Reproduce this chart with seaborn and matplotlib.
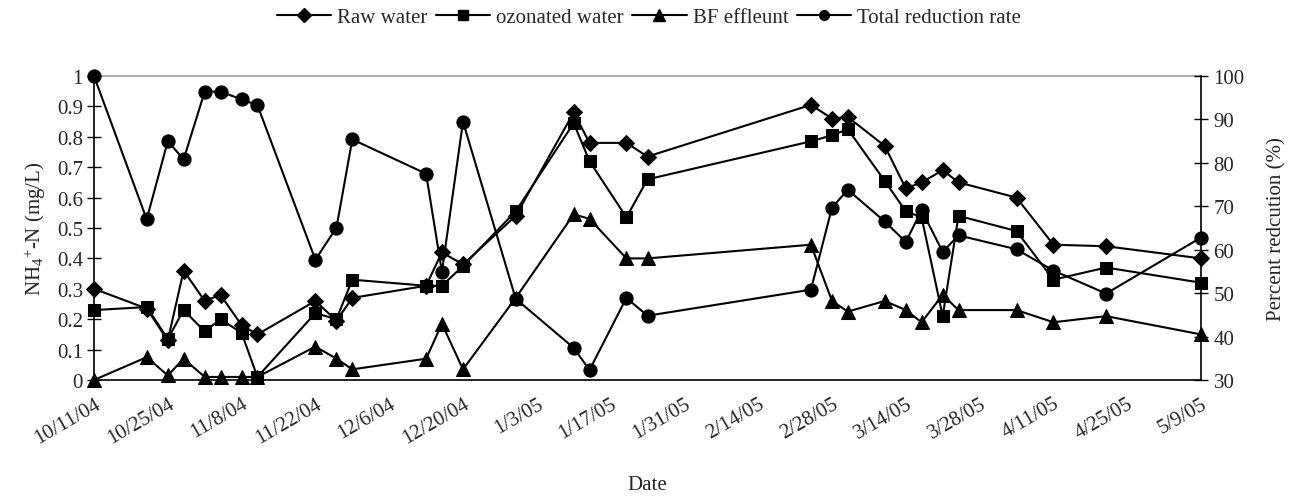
import matplotlib
matplotlib.use("Agg")
import matplotlib.pyplot as plt
import matplotlib.dates as mdates
from matplotlib.lines import Line2D
import seaborn as sns
import pandas as pd

# ---- data ----
dates = ["10/11/04", "10/21/04", "10/25/04", "10/28/04", "11/1/04", "11/4/04", "11/8/04",
         "11/11/04", "11/22/04", "11/26/04", "11/29/04", "12/13/04", "12/16/04", "12/20/04",
         "12/30/04", "1/10/05", "1/13/05", "1/20/05", "1/24/05", "2/24/05", "2/28/05",
         "3/3/05", "3/10/05", "3/14/05", "3/17/05", "3/21/05", "3/24/05", "4/4/05",
         "4/11/05", "4/21/05", "5/9/05"]
raw_water = [0.30, 0.235, 0.13, 0.36, 0.26, 0.28, 0.18, 0.15, 0.26, 0.195, 0.27, 0.31,
             0.42, 0.38, 0.54, 0.88, 0.78, 0.78, 0.735, 0.905, 0.86, 0.865, 0.77, 0.63,
             0.65, 0.69, 0.65, 0.60, 0.445, 0.44, 0.40]
ozonated = [0.23, 0.24, 0.135, 0.23, 0.16, 0.20, 0.155, 0.01, 0.22, 0.20, 0.33, 0.31,
            0.31, 0.375, 0.555, 0.845, 0.72, 0.535, 0.66, 0.785, 0.805, 0.825, 0.655,
            0.555, 0.535, 0.21, 0.54, 0.49, 0.33, 0.37, 0.32]
bf_effluent = [0.0, 0.075, 0.015, 0.07, 0.01, 0.01, 0.01, 0.01, 0.11, 0.07, 0.035, 0.07,
               0.185, 0.035, 0.27, 0.545, 0.53, 0.40, 0.40, 0.445, 0.26, 0.225, 0.26,
               0.23, 0.19, 0.28, 0.23, 0.23, 0.19, 0.21, 0.15]
total_reduction = [100, 67.0, 85.0, 80.8, 96.4, 96.4, 94.6, 93.3, 57.7, 65.1, 85.4, 77.5,
                   54.9, 89.5, 48.7, 37.4, 32.3, 48.9, 44.8, 50.8, 69.7, 73.8, 66.5, 61.8,
                   69.1, 59.5, 63.3, 60.1, 55.2, 49.9, 62.8]
xtick_labels = ["10/11/04", "10/25/04", "11/8/04", "11/22/04", "12/6/04", "12/20/04",
                "1/3/05", "1/17/05", "1/31/05", "2/14/05", "2/28/05", "3/14/05",
                "3/28/05", "4/11/05", "4/25/05", "5/9/05"]
series_names = ["Raw water", "ozonated water", "BF effleunt", "Total reduction rate"]
left_ticks = [0, 0.1, 0.2, 0.3, 0.4, 0.5, 0.6, 0.7, 0.8, 0.9, 1]
left_tick_labels = ["0", "0.1", "0.2", "0.3", "0.4", "0.5", "0.6", "0.7", "0.8", "0.9", "1"]
right_ticks = [30, 40, 50, 60, 70, 80, 90, 100]

# ---- style ----
sns.set_style("white")
plt.rcParams["font.family"] = ["Liberation Serif", "DejaVu Serif"]
plt.rcParams["mathtext.fontset"] = "custom"
plt.rcParams["mathtext.rm"] = "Liberation Serif"
plt.rcParams["mathtext.it"] = "Liberation Serif:italic"
FS = 15

df = pd.DataFrame({
    "date": pd.to_datetime(dates, format="%m/%d/%y"),
    "raw": raw_water, "ozon": ozonated, "bf": bf_effluent, "total": total_reduction,
})

fig = plt.figure(figsize=(12.98, 5.02), dpi=100)
ax = fig.add_axes([94 / 1298, 1 - 381 / 502, (1201 - 94) / 1298, (381 - 77) / 502])
ax2 = ax.twinx()

lw = 1.5
common = dict(color="black", linewidth=lw, markeredgecolor="black", markerfacecolor="black",
              legend=False, sort=False)
sns.lineplot(data=df, x="date", y="raw", ax=ax, marker="D", markersize=8.5, **common)
sns.lineplot(data=df, x="date", y="ozon", ax=ax, marker="s", markersize=9, **common)
sns.lineplot(data=df, x="date", y="bf", ax=ax, marker="^", markersize=10.5, **common)
sns.lineplot(data=df, x="date", y="total", ax=ax2, marker="o", markersize=9.5, **common)

# limits
xt = pd.to_datetime(xtick_labels, format="%m/%d/%y")
ax.set_xlim(mdates.date2num(xt[0]), mdates.date2num(xt[-1]))
ax.set_ylim(0, 1)
ax2.set_ylim(30, 100)
for a in (ax, ax2):
    a.patch.set_visible(False)
    for s in a.spines.values():
        s.set_clip_on(False)
for m in ax.lines + ax2.lines:
    m.set_clip_on(False)

ax.set_xticks(mdates.date2num(xt))
ax.set_xticklabels(xtick_labels, rotation=30, ha="right", rotation_mode="anchor", fontsize=FS)
ax.set_yticks(left_ticks)
ax.set_yticklabels(left_tick_labels, fontsize=FS)
ax2.set_yticks(right_ticks)
ax2.set_yticklabels([str(v) for v in right_ticks], fontsize=FS)

ax.tick_params(axis="x", direction="in", length=5, width=1, color="black", pad=10)
ax.tick_params(axis="y", direction="inout", length=10, width=1, color="black", pad=3)
ax2.tick_params(axis="y", direction="inout", length=10, width=1, color="black", pad=4)

for a in (ax, ax2):
    a.spines["left"].set_color("black")
    a.spines["right"].set_color("black")
    a.spines["bottom"].set_color("black")
    a.spines["top"].set_color("#999999")
    for s in a.spines.values():
        s.set_linewidth(1.2)
ax.spines["right"].set_visible(False)
ax2.spines["left"].set_visible(False)
ax2.spines["bottom"].set_visible(False)
ax2.spines["top"].set_visible(False)

ax.set_xlabel("Date", fontsize=FS, labelpad=20)
ax.set_ylabel(r"NH$_4$$^{+}$-N (mg/L)", fontsize=FS, labelpad=6)
ax2.set_ylabel("Percent redcution (%)", fontsize=FS, labelpad=16)
ax.grid(False)
ax2.grid(False)

handles = [
    Line2D([], [], color="black", lw=lw, marker="D", markersize=7),
    Line2D([], [], color="black", lw=lw, marker="s", markersize=7),
    Line2D([], [], color="black", lw=lw, marker="^", markersize=8),
    Line2D([], [], color="black", lw=lw, marker="o", markersize=7),
]
fig.legend(handles, series_names, loc="center", bbox_to_anchor=(0.5, 1 - 18 / 502), ncol=4,
           frameon=False, fontsize=FS, handlelength=2.6, columnspacing=0.4, handletextpad=0.3)

fig.savefig("out.png", dpi=100)
